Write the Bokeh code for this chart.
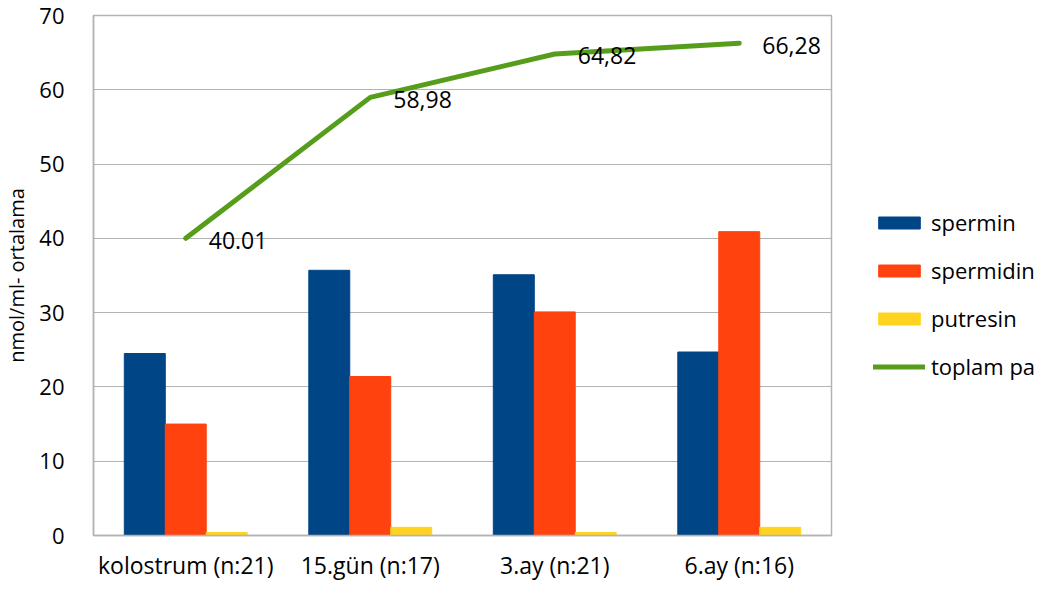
from bokeh.plotting import figure
from bokeh.models import (ColumnDataSource, FactorRange, Range1d, Legend, LegendItem,
                          SingleIntervalTicker)
from bokeh.transform import dodge
from bokeh.core.properties import value
from bokeh.embed import file_html
from bokeh.resources import INLINE

categories = ["kolostrum (n:21)", "15.gün (n:17)", "3.ay (n:21)", "6.ay (n:16)"]
spermin = [24.5, 35.7, 35.1, 24.7]
spermidin = [15.0, 21.4, 30.1, 40.9]
putresin = [0.4, 1.1, 0.4, 1.1]
toplam = [40.01, 58.98, 64.82, 66.28]
toplam_labels = ["40.01", "58,98", "64,82", "66,28"]
series_names = ["spermin", "spermidin", "putresin", "toplam pa"]
y_label = "nmol/ml- ortalama"

FONT = "Open Sans"
BLUE, ORANGE, YELLOW, GREEN = "#004586", "#ff420e", "#ffd320", "#579d1c"
GRID = "#b3b3b3"

src = ColumnDataSource(dict(cat=categories, spermin=spermin, spermidin=spermidin,
                            putresin=putresin, toplam=toplam, lbl=toplam_labels))

p = figure(x_range=FactorRange(*categories), y_range=Range1d(0, 70),
           frame_width=738, frame_height=520,
           min_border_left=92, min_border_right=219, min_border_top=15, min_border_bottom=58,
           output_backend="svg", toolbar_location=None, tools="")
p.x_range.range_padding = 0

bw = 0.222
r1 = p.vbar(x=dodge("cat", -bw, range=p.x_range), top="spermin", width=bw, source=src,
            fill_color=BLUE, line_color=BLUE)
r2 = p.vbar(x=dodge("cat", 0, range=p.x_range), top="spermidin", width=bw, source=src,
            fill_color=ORANGE, line_color=ORANGE)
r3 = p.vbar(x=dodge("cat", bw, range=p.x_range), top="putresin", width=bw, source=src,
            fill_color=YELLOW, line_color=YELLOW)
r4 = p.line(x="cat", y="toplam", source=src, line_color=GREEN, line_width=5,
            line_cap="round", line_join="round")
p.text(x="cat", y="toplam", text="lbl", source=src, x_offset=23, y_offset=2,
       text_baseline="middle", text_align="left", text_font=value(FONT),
       text_font_size="23px", text_color="#000000")

# axes
p.yaxis.ticker = SingleIntervalTicker(interval=10)
for ax in (p.xaxis[0], p.yaxis[0]):
    ax.major_tick_line_color = None
    ax.minor_tick_line_color = None
    ax.major_tick_out = 0
    ax.major_tick_in = 0
    ax.axis_line_color = GRID
    ax.axis_line_width = 1.5
    ax.major_label_text_font = FONT
    ax.major_label_text_color = "#000000"
p.yaxis.major_label_text_font_size = "22px"
p.xaxis.major_label_text_font_size = "23px"
p.yaxis.major_label_standoff = 25
p.xaxis.major_label_standoff = 13
p.yaxis.axis_label = y_label
p.yaxis.axis_label_text_font = FONT
p.yaxis.axis_label_text_font_size = "20px"
p.yaxis.axis_label_text_font_style = "normal"
p.yaxis.axis_label_text_color = "#000000"
p.yaxis.axis_label_standoff = 6

p.xgrid.grid_line_color = None
p.ygrid.grid_line_color = GRID
p.ygrid.grid_line_width = 1
p.outline_line_color = GRID
p.outline_line_width = 1.5
p.background_fill_color = "white"
p.border_fill_color = "white"

legend = Legend(items=[LegendItem(label=series_names[0], renderers=[r1]),
                       LegendItem(label=series_names[1], renderers=[r2]),
                       LegendItem(label=series_names[2], renderers=[r3]),
                       LegendItem(label=series_names[3], renderers=[r4])],
                location=(42, 154), orientation="vertical",
                glyph_width=52, glyph_height=15, label_height=15,
                label_standoff=6, spacing=18, padding=0, margin=0,
                border_line_color=None, background_fill_alpha=0,
                label_text_font=FONT, label_text_font_size="22px",
                label_text_color="#000000")
p.add_layout(legend, "right")

open("out.html", "w").write(file_html(p, INLINE))
